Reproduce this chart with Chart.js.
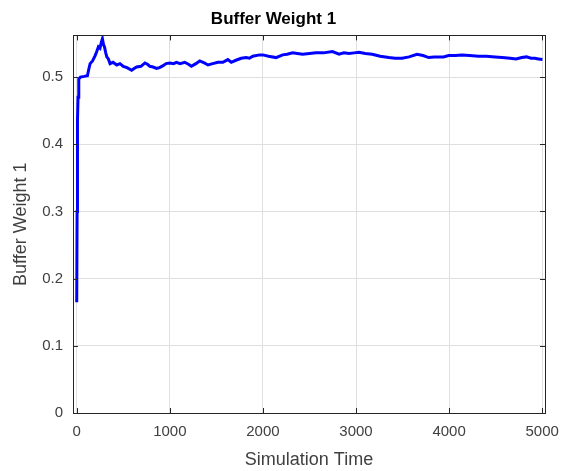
<!DOCTYPE html>
<html>
<head>
<meta charset="utf-8">
<script src="https://cdn.jsdelivr.net/npm/chart.js@4.4.1/dist/chart.umd.min.js"></script>
<style>
  html, body { margin: 0; padding: 0; background: #fff; }
  #wrap { width: 569px; height: 471px; }
</style>
</head>
<body>
<div id="wrap"><canvas id="grafica"></canvas></div>
<script>
// Datos
const simTime = [0, 4, 8, 14, 22, 40, 80, 115, 130, 144, 170, 198, 215, 233, 250, 265, 276, 288, 298, 312,
  323, 340, 358, 390, 430, 465, 500, 540, 590, 620, 644, 690, 733, 760, 786, 820, 858, 890, 928, 960,
  1000, 1040, 1071, 1110, 1160, 1200, 1232, 1280, 1321, 1370, 1410, 1460, 1517, 1570, 1623, 1660, 1710, 1767, 1820, 1856,
  1891, 1963, 1998, 2060, 2141, 2212, 2260, 2319, 2370, 2426, 2500, 2569, 2650, 2747, 2818, 2870, 2925, 2980, 3032, 3100,
  3174, 3260, 3353, 3420, 3495, 3570, 3655, 3720, 3781, 3840, 3888, 3940, 3995, 4070, 4137, 4220, 4316, 4400, 4494, 4570,
  4655, 4720, 4780, 4832, 4880, 4922, 4960, 5003];
const bufferWeight = [0.165, 0.30, 0.435, 0.47, 0.497, 0.500, 0.501, 0.502, 0.512, 0.520, 0.524, 0.532, 0.538, 0.545, 0.543, 0.552, 0.557, 0.548, 0.545, 0.536,
  0.530, 0.527, 0.520, 0.522, 0.518, 0.520, 0.516, 0.514, 0.510, 0.513, 0.515, 0.516, 0.521, 0.519, 0.516, 0.515, 0.513, 0.514, 0.517, 0.520,
  0.521, 0.520, 0.522, 0.520, 0.522, 0.519, 0.516, 0.520, 0.524, 0.521, 0.518, 0.520, 0.522, 0.522, 0.526, 0.522, 0.525, 0.528, 0.529, 0.528,
  0.531, 0.533, 0.533, 0.531, 0.529, 0.533, 0.534, 0.536, 0.535, 0.534, 0.535, 0.536, 0.536, 0.538, 0.534, 0.536, 0.535, 0.536, 0.537, 0.535,
  0.534, 0.531, 0.529, 0.528, 0.528, 0.530, 0.534, 0.532, 0.529, 0.530, 0.530, 0.530, 0.532, 0.532, 0.533, 0.532, 0.531, 0.531, 0.530, 0.529,
  0.528, 0.527, 0.529, 0.530, 0.528, 0.528, 0.527, 0.526];

const xTicks = [0, 1000, 2000, 3000, 4000, 5000];
const yTicks = [0, 0.1, 0.2, 0.3, 0.4, 0.5];

const tituloGrafica = 'Buffer Weight 1';
const tituloX = 'Simulation Time';
const tituloY = 'Buffer Weight 1';

const colorEje = '#262626';
const colorTexto = '#404040';
const fuente = "'Liberation Sans', Arial, sans-serif";

// Caja y marcas hacia dentro (estilo MATLAB)
const cajaEjes = {
    id: 'cajaEjes',
    afterDatasetsDraw(chart) {
        const { ctx, chartArea: a, scales } = chart;
        const largo = 5;
        ctx.save();
        ctx.strokeStyle = colorEje;
        ctx.lineWidth = 1;
        ctx.beginPath();
        xTicks.forEach(v => {
            const px = Math.round(scales.x.getPixelForValue(v)) + 0.5;
            ctx.moveTo(px, a.bottom); ctx.lineTo(px, a.bottom - largo);
            ctx.moveTo(px, a.top); ctx.lineTo(px, a.top + largo);
        });
        yTicks.forEach(v => {
            const py = Math.round(scales.y.getPixelForValue(v)) + 0.5;
            ctx.moveTo(a.left, py); ctx.lineTo(a.left + largo, py);
            ctx.moveTo(a.right, py); ctx.lineTo(a.right - largo, py);
        });
        ctx.stroke();
        ctx.strokeRect(Math.round(a.left) + 0.5, Math.round(a.top) + 0.5,
            Math.round(a.right - a.left), Math.round(a.bottom - a.top));
        ctx.restore();
    }
};

const puntos = simTime.map((t, i) => ({ x: t, y: bufferWeight[i] }));

new Chart(document.getElementById('grafica'), {
    type: 'line',
    data: {
        datasets: [{
            label: tituloY,
            data: puntos,
            borderColor: '#0000ff',
            backgroundColor: 'transparent',
            borderWidth: 3,
            pointRadius: 0,
            tension: 0
        }]
    },
    options: {
        responsive: true,
        maintainAspectRatio: false,
        animation: false,
        layout: { padding: { left: 0, right: 22, top: 0, bottom: 0 } },
        plugins: {
            legend: { display: false },
            tooltip: { enabled: false },
            title: {
                display: true,
                text: tituloGrafica,
                color: '#000',
                font: { family: fuente, size: 17, weight: 'bold' },
                padding: { top: 9, bottom: 6 }
            }
        },
        scales: {
            x: {
                type: 'linear',
                min: -40,
                max: 5030,
                afterBuildTicks: s => { s.ticks = xTicks.map(v => ({ value: v })); },
                afterFit: s => { s.height = 58; },
                grid: { color: '#dfdfdf', drawTicks: false },
                border: { display: false },
                ticks: {
                    color: colorTexto,
                    font: { family: fuente, size: 15 },
                    padding: 10,
                    maxRotation: 0,
                    callback: v => String(v)
                },
                title: { display: true, text: tituloX, color: colorTexto, font: { family: fuente, size: 18 }, padding: { top: 0, bottom: 0 } }
            },
            y: {
                min: 0,
                max: 0.562,
                afterBuildTicks: s => { s.ticks = yTicks.map(v => ({ value: v })); },
                afterFit: s => { s.width = 73; },
                grid: { color: '#dfdfdf', drawTicks: false },
                border: { display: false },
                ticks: {
                    color: colorTexto,
                    font: { family: fuente, size: 15 },
                    padding: 10,
                    callback: v => String(Number(v.toFixed(1)))
                },
                title: { display: true, text: tituloY, color: colorTexto, font: { family: fuente, size: 18 }, padding: { top: 10, bottom: 0 } }
            }
        }
    },
    plugins: [cajaEjes]
});
</script>
</body>
</html>
